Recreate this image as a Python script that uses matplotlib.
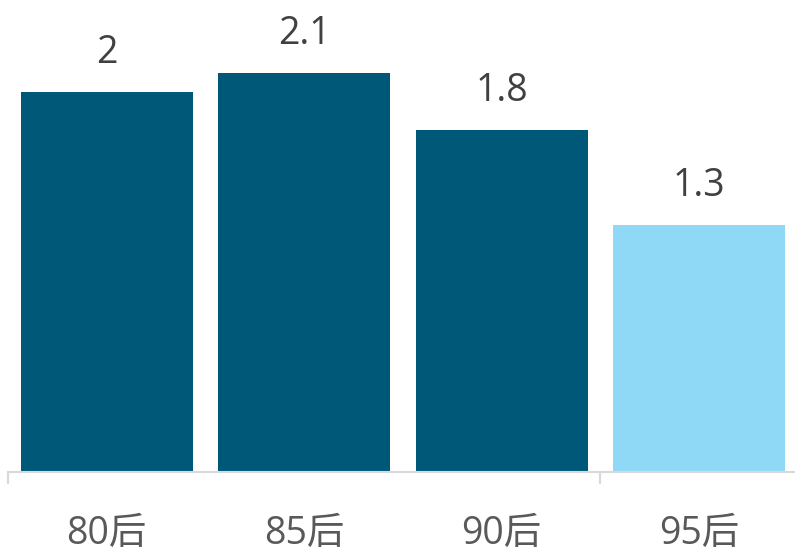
import matplotlib
matplotlib.use("Agg")
import matplotlib.pyplot as plt
from matplotlib.ticker import FixedLocator

categories = ["80后", "85后", "90后", "95后"]
values = [2, 2.1, 1.8, 1.3]
value_labels = ["2", "2.1", "1.8", "1.3"]
colors = ["#005878", "#005878", "#005878", "#8FD9F7"]

plt.rcParams['font.family'] = ['Open Sans', 'Noto Sans CJK SC', 'DejaVu Sans']

fig = plt.figure(figsize=(7.95, 5.53), dpi=100)
ax = fig.add_axes([8/795, 81/553, 787/795, 472/553])

x = list(range(len(categories)))
bars = ax.bar(x, values, width=0.871, color=colors)

for xi, v, lab in zip(x, values, value_labels):
    ax.annotate(lab, (xi, v), xytext=(0, 21), textcoords='offset points',
                ha='center', va='baseline', fontsize=27, color='#404040')

ax.set_xlim(-0.5, 3.485)
ax.set_ylim(0, 472/190)

for s in ['top', 'right', 'left']:
    ax.spines[s].set_visible(False)
ax.spines['bottom'].set_color('#D9D9D9')
ax.spines['bottom'].set_linewidth(1.5)
ax.set_yticks([])

ax.set_xticks(x)
ax.set_xticklabels(categories, fontsize=27, color='#595959')
ax.tick_params(axis='x', which='major', length=0, pad=31)
ax.xaxis.set_minor_locator(FixedLocator([-0.5, 2.5]))
ax.tick_params(axis='x', which='minor', length=8.6, width=1.5, color='#D9D9D9')

fig.savefig("out.png", dpi=100)
